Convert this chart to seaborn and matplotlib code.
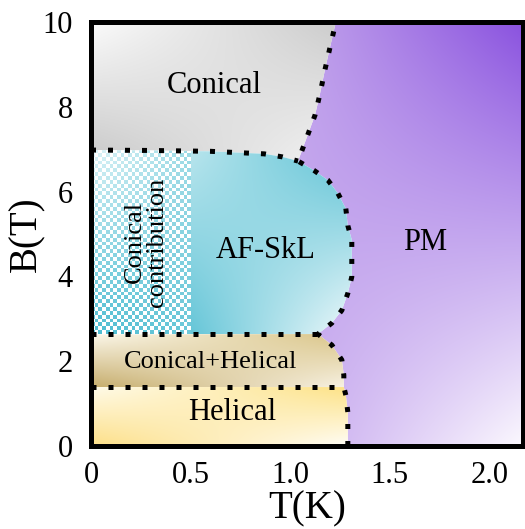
import numpy as np
import pandas as pd
import matplotlib
matplotlib.use("Agg")
import matplotlib.pyplot as plt
from matplotlib.colors import to_rgb
from matplotlib.patches import Polygon
import seaborn as sns

# ---------------------------------------------------------------------
# Phase boundaries (T in K, B in T)
# ---------------------------------------------------------------------
# PM boundary, from the bottom axis up to the top axis
pm_T = [1.29, 1.29, 1.29, 1.28, 1.27, 1.27, 1.26, 1.21, 1.14, 1.21, 1.26, 1.29, 1.31,
        1.31, 1.31, 1.29, 1.28, 1.24, 1.19, 1.12, 1.04, 1.085, 1.125, 1.15, 1.175, 1.20, 1.23]
pm_B = [0.0, 0.42, 0.8, 1.2, 1.39, 1.67, 2.03, 2.38, 2.64, 2.9, 3.2, 3.6, 3.99,
        4.43, 4.86, 5.2, 5.6, 5.96, 6.27, 6.5, 6.72, 7.29, 7.8, 8.3, 8.87, 9.39, 10.0]
# Conical / AF-SkL line
sk_top_T = [0.0, 0.3, 0.6, 0.87, 0.96, 1.04]
sk_top_B = [6.98, 6.97, 6.95, 6.89, 6.82, 6.72]
sk_bot_B = 2.63        # AF-SkL / Conical+Helical
helical_top_B = 1.39   # Conical+Helical / Helical
checker_T = 0.5        # end of the "conical contribution" part
T_MAX, B_MAX = 2.17, 10

labels = ["Conical", "AF-SkL", "PM", "Conical+Helical", "Helical", "Conical\ncontribution"]
label_T = [0.62, 0.875, 1.68, 0.60, 0.71, 0.276]
label_B = [8.5, 4.62, 4.8, 1.98, 0.80, 4.81]

# corner colours (top-left, top-right, bottom-left, bottom-right)
colors = {
    "Conical": ["#fbfbfb", "#cccccc", "#c8c8c8", "#f4f4f4"],
    "AF-SkL": ["#b8e5ed", "#5cc2d5", "#66c6d8", "#f0f9fb"],
    "PM": ["#c2a4ec", "#8a52df", "#c8abef", "#fbf8fe"],
    "Conical+Helical": ["#fcf8ec", "#d9c486", "#c6ad6c", "#f7f1e2"],
    "Helical": ["#fffbea", "#fde286", "#fddf86", "#fffdf6"],
    "checker": ["#dcf3f7", "#9ddbe6", "#4dbdd2", "#6cc8d9"],
}


def gradient(c, nx=200, ny=200):
    tl, tr, bl, br = [np.array(to_rgb(x)) for x in c]
    u = np.linspace(0, 1, nx)[None, :, None]
    v = np.linspace(0, 1, ny)[:, None, None]
    top = (1 - u) * tl + u * tr
    bot = (1 - u) * bl + u * br
    return (1 - v) * bot + v * top


def fill(ax, img, poly, extent, interp="bilinear"):
    patch = Polygon(poly, closed=True, transform=ax.transData, facecolor="none", edgecolor="none")
    ax.add_patch(patch)
    im = ax.imshow(img, extent=extent, origin="lower", aspect="auto", interpolation=interp, zorder=1)
    im.set_clip_path(patch)


sns.set_theme(style="ticks")
plt.rcParams["font.family"] = ["Liberation Serif", "DejaVu Serif"]
plt.rcParams.update({"text.color": "black", "axes.labelcolor": "black",
                     "xtick.color": "black", "ytick.color": "black"})

fig = plt.figure(figsize=(5.25, 5.29), dpi=100)
ax = fig.add_axes([91 / 525, 83 / 529, 432 / 525, 424 / 529])

pm = list(zip(pm_T, pm_B))
top = list(zip(sk_top_T, sk_top_B))
i_hel, i_kink, i_top = 4, 8, 20

# regions
fill(ax, gradient(colors["PM"]), pm + [(T_MAX, B_MAX), (T_MAX, 0)], (1.03, T_MAX, 0, B_MAX))
fill(ax, gradient(colors["Conical"]), top + pm[i_top:] + [(0, B_MAX)], (0, 1.23, 6.7, B_MAX))
sk_poly = top + pm[i_kink:i_top + 1][::-1] + [(0, sk_bot_B)]
fill(ax, gradient(colors["AF-SkL"]), sk_poly, (checker_T, 1.31, sk_bot_B, 6.96))
fill(ax, gradient(colors["Conical+Helical"]),
     [(0, helical_top_B)] + pm[i_hel:i_kink + 1] + [(0, sk_bot_B)], (0, 1.27, helical_top_B, sk_bot_B))
fill(ax, gradient(colors["Helical"]),
     [(0, 0)] + pm[:i_hel + 1] + [(0, helical_top_B)], (0, 1.29, 0, helical_top_B))

# checkerboard part of the skyrmion phase
n_cols, n_rows = 27, 48
chk = gradient(colors["checker"], n_cols, n_rows)
jj, ii = np.meshgrid(np.arange(n_cols), np.arange(n_rows))
chk[(ii + jj) % 2 == 1] = 1.0
fill(ax, chk, sk_poly, (0, checker_T, sk_bot_B, 6.98), interp="nearest")

# dotted phase boundaries
lines = pd.concat([
    pd.DataFrame({"T": pm_T, "B": pm_B, "line": "pm"}),
    pd.DataFrame({"T": sk_top_T, "B": sk_top_B, "line": "top"}),
    pd.DataFrame({"T": [0, 1.14], "B": [sk_bot_B, sk_bot_B], "line": "bot"}),
    pd.DataFrame({"T": [0, 1.27], "B": [helical_top_B, helical_top_B], "line": "hel"}),
])
for name, grp in lines.groupby("line", sort=False):
    sns.lineplot(data=grp, x="T", y="B", sort=False, estimator=None, ax=ax, color="black",
                 lw=3.6, linestyle=(0, (1, 2.4)), dash_capstyle="butt", zorder=3)

for txt, t, b in zip(labels, label_T, label_B):
    if "\n" in txt:
        ax.text(t, b, txt, rotation=90, ha="center", va="center", fontsize=19, linespacing=0.95,
                color="black", zorder=4)
    elif txt == "Conical+Helical":
        ax.text(t, b, txt, ha="center", va="center", fontsize=19, color="black", zorder=4)
    else:
        ax.text(t, b, txt, ha="center", va="center", fontsize=22, color="black", zorder=4)

ax.set_xlim(0, T_MAX)
ax.set_ylim(0, B_MAX)
ax.set_xticks([0, 0.5, 1.0, 1.5, 2.0], ["0", "0.5", "1.0", "1.5", "2.0"])
ax.set_yticks([0, 2, 4, 6, 8, 10])
ax.tick_params(direction="in", length=7, width=2, top=False, right=False, labelsize=22,
               color="black", labelcolor="black")
ax.tick_params(axis="x", pad=11)
ax.tick_params(axis="y", pad=13)
for s in ax.spines.values():
    s.set_linewidth(3.6)
    s.set_color("black")
    s.set_zorder(5)
ax.set_xlabel("T(K)", fontsize=28, labelpad=0, color="black")
ax.set_ylabel("B(T)", fontsize=28, labelpad=-2, color="black")

fig.savefig("out.png", dpi=100)
